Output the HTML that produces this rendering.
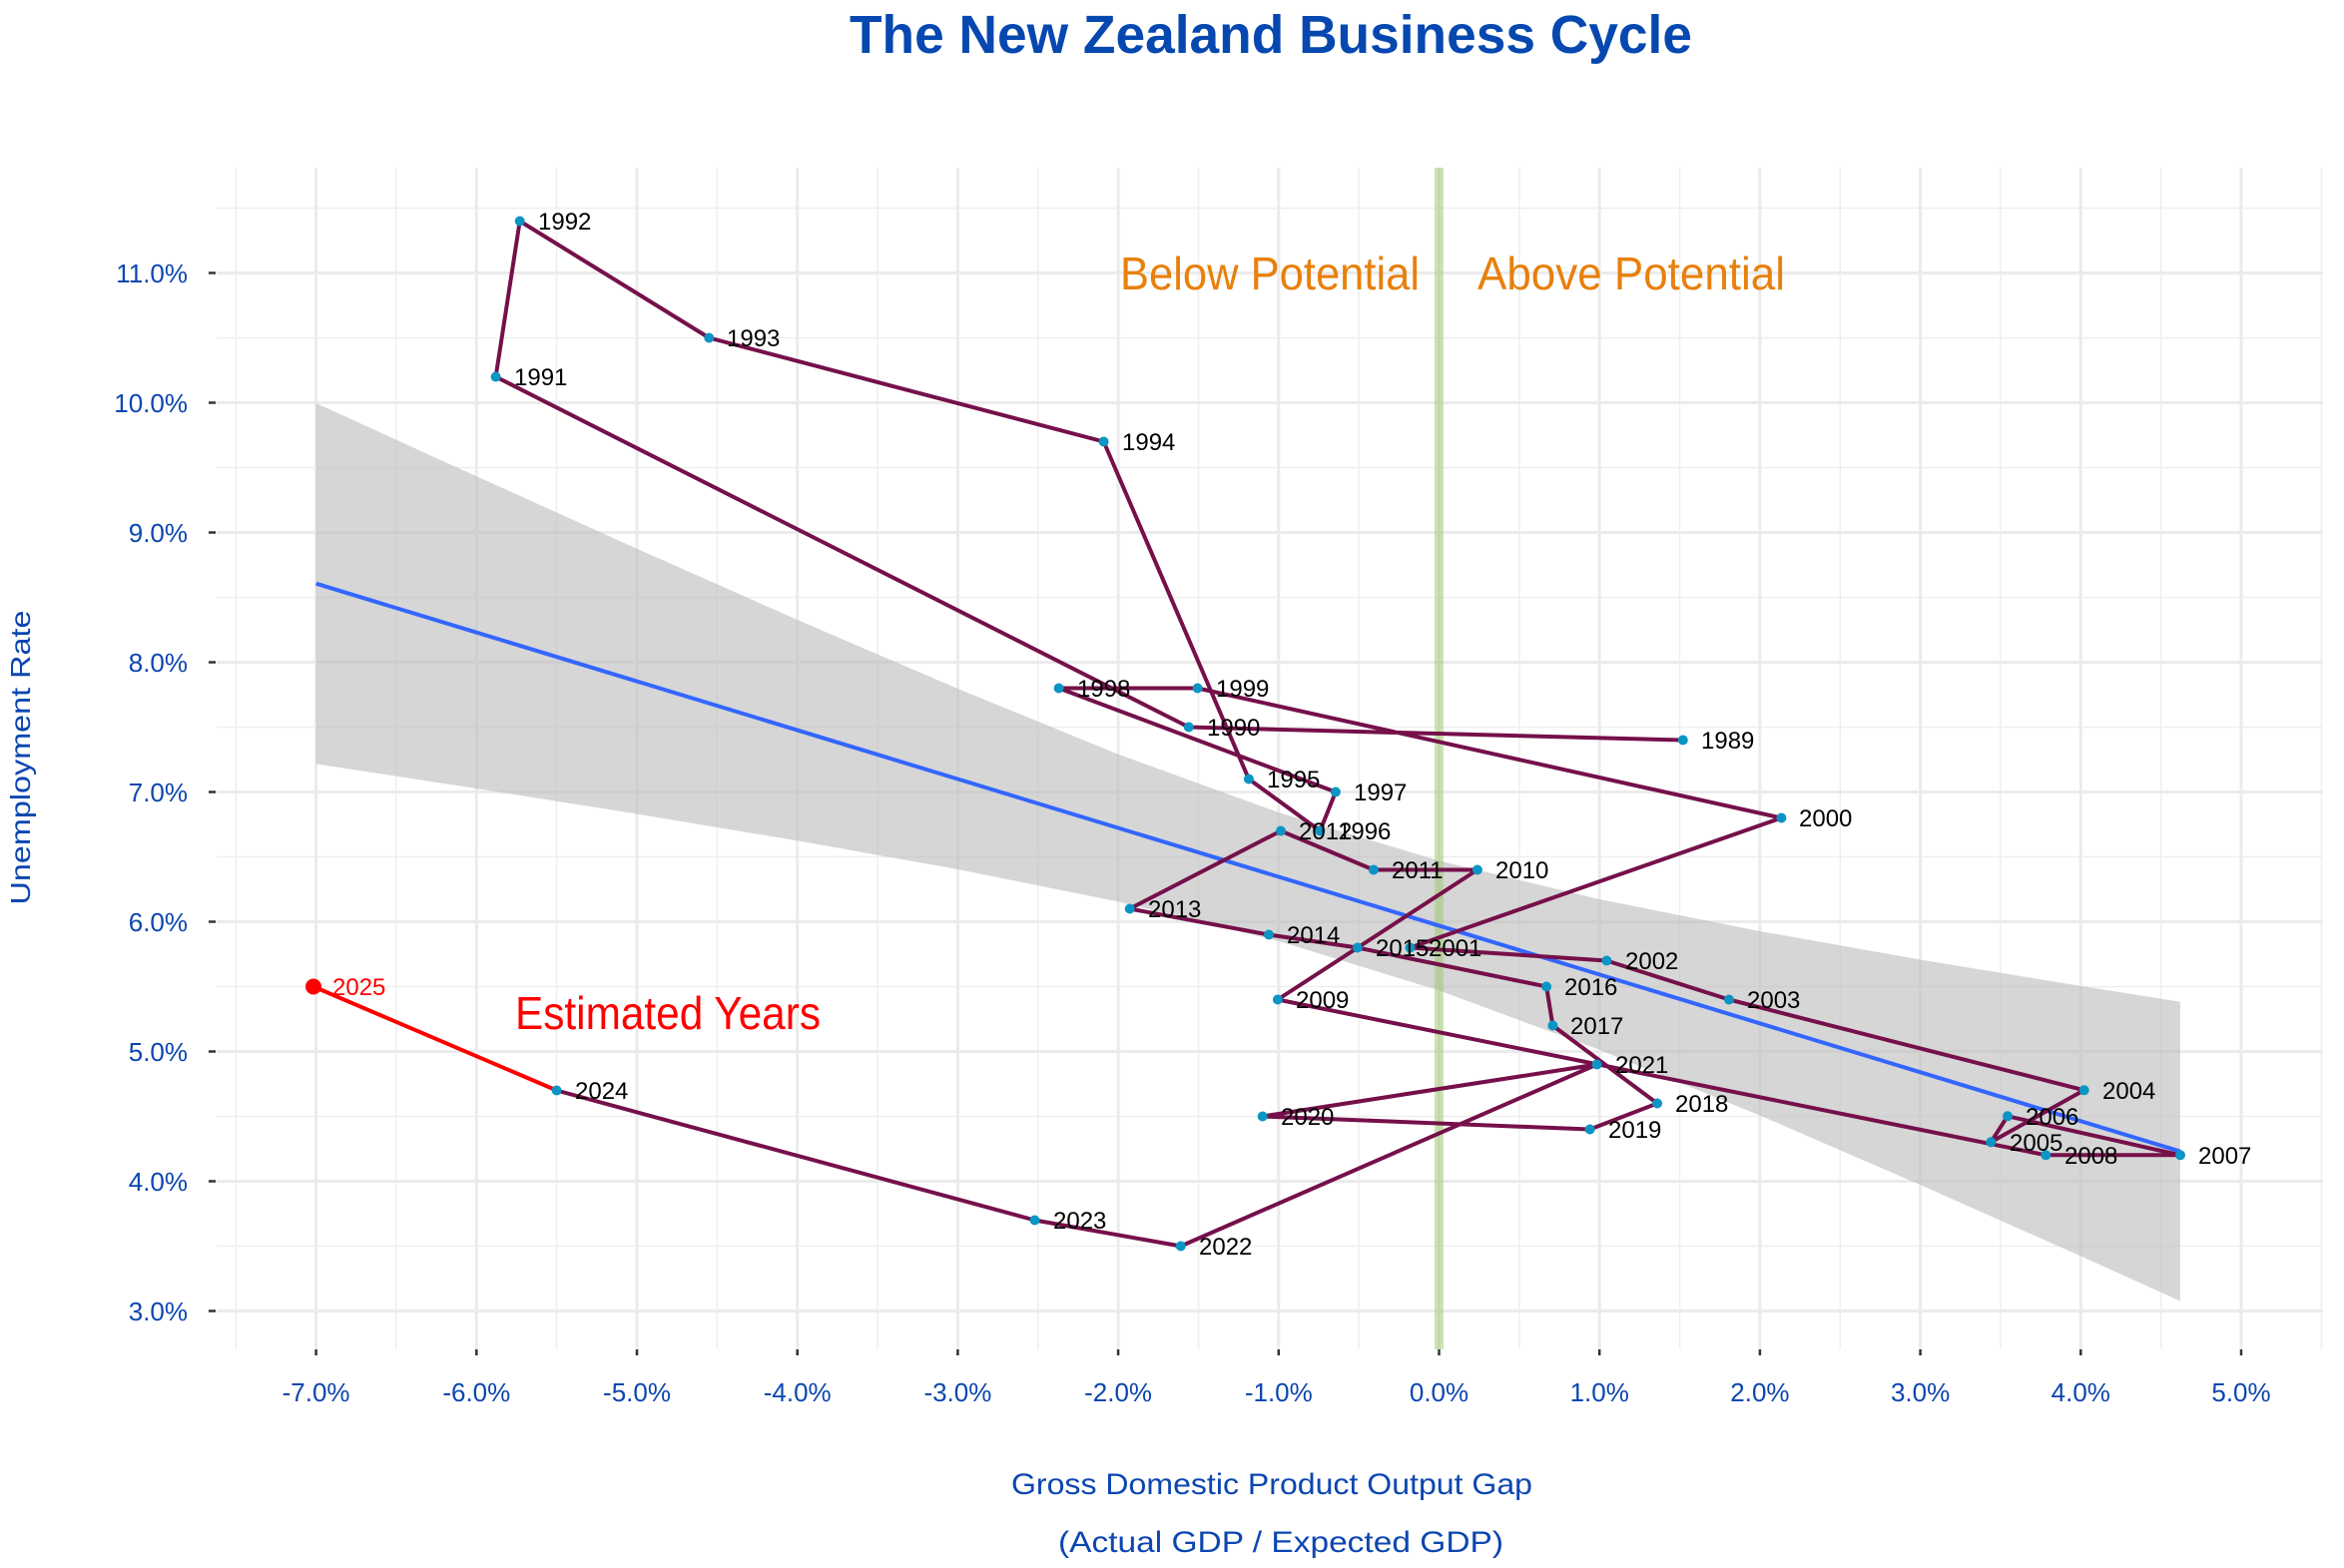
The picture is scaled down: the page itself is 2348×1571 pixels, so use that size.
<!DOCTYPE html>
<html><head><meta charset="utf-8"><style>
html,body{margin:0;padding:0;background:#fff}
svg{display:block}
text{font-family:"Liberation Sans",sans-serif}
.yl{font-size:26px;fill:#0b46b0;text-anchor:end}
.xl{font-size:26px;fill:#0b46b0;text-anchor:middle}
.lb{font-size:24px;fill:#000}
</style></head><body>
<svg width="2348" height="1571" viewBox="0 0 2348 1571" xmlns="http://www.w3.org/2000/svg">
<rect width="2348" height="1571" fill="#fff"/>
<text x="851" y="53" font-size="54" font-weight="bold" fill="#0648b0" textLength="844" lengthAdjust="spacingAndGlyphs">The New Zealand Business Cycle</text>
<!-- minor grid -->
<g stroke="#efefef" stroke-width="1.5">
<line x1="236.2" y1="168" x2="236.2" y2="1352"/><line x1="396.9" y1="168" x2="396.9" y2="1352"/><line x1="557.6" y1="168" x2="557.6" y2="1352"/><line x1="718.4" y1="168" x2="718.4" y2="1352"/><line x1="879.1" y1="168" x2="879.1" y2="1352"/><line x1="1039.8" y1="168" x2="1039.8" y2="1352"/><line x1="1200.5" y1="168" x2="1200.5" y2="1352"/><line x1="1361.2" y1="168" x2="1361.2" y2="1352"/><line x1="1521.9" y1="168" x2="1521.9" y2="1352"/><line x1="1682.6" y1="168" x2="1682.6" y2="1352"/><line x1="1843.3" y1="168" x2="1843.3" y2="1352"/><line x1="2004" y1="168" x2="2004" y2="1352"/><line x1="2164.7" y1="168" x2="2164.7" y2="1352"/><line x1="2325.4" y1="168" x2="2325.4" y2="1352"/>
<line x1="217" y1="208.5" x2="2327" y2="208.5"/><line x1="217" y1="338.5" x2="2327" y2="338.5"/><line x1="217" y1="468.5" x2="2327" y2="468.5"/><line x1="217" y1="598.5" x2="2327" y2="598.5"/><line x1="217" y1="728.5" x2="2327" y2="728.5"/><line x1="217" y1="858.5" x2="2327" y2="858.5"/><line x1="217" y1="988.5" x2="2327" y2="988.5"/><line x1="217" y1="1118.5" x2="2327" y2="1118.5"/><line x1="217" y1="1248.5" x2="2327" y2="1248.5"/>
</g>
<g stroke="#ebebeb" stroke-width="3">
<line x1="316.6" y1="168" x2="316.6" y2="1352"/><line x1="477.3" y1="168" x2="477.3" y2="1352"/><line x1="638" y1="168" x2="638" y2="1352"/><line x1="798.7" y1="168" x2="798.7" y2="1352"/><line x1="959.4" y1="168" x2="959.4" y2="1352"/><line x1="1120.1" y1="168" x2="1120.1" y2="1352"/><line x1="1280.8" y1="168" x2="1280.8" y2="1352"/><line x1="1441.5" y1="168" x2="1441.5" y2="1352"/><line x1="1602.2" y1="168" x2="1602.2" y2="1352"/><line x1="1762.9" y1="168" x2="1762.9" y2="1352"/><line x1="1923.6" y1="168" x2="1923.6" y2="1352"/><line x1="2084.3" y1="168" x2="2084.3" y2="1352"/><line x1="2245" y1="168" x2="2245" y2="1352"/>
<line x1="217" y1="273.5" x2="2327" y2="273.5"/><line x1="217" y1="403.5" x2="2327" y2="403.5"/><line x1="217" y1="533.5" x2="2327" y2="533.5"/><line x1="217" y1="663.5" x2="2327" y2="663.5"/><line x1="217" y1="793.5" x2="2327" y2="793.5"/><line x1="217" y1="923.5" x2="2327" y2="923.5"/><line x1="217" y1="1053.5" x2="2327" y2="1053.5"/><line x1="217" y1="1183.5" x2="2327" y2="1183.5"/><line x1="217" y1="1313.5" x2="2327" y2="1313.5"/>
</g>
<!-- ticks -->
<g stroke="#333" stroke-width="2.5">
<line x1="209" y1="273.5" x2="216" y2="273.5"/><line x1="209" y1="403.5" x2="216" y2="403.5"/><line x1="209" y1="533.5" x2="216" y2="533.5"/><line x1="209" y1="663.5" x2="216" y2="663.5"/><line x1="209" y1="793.5" x2="216" y2="793.5"/><line x1="209" y1="923.5" x2="216" y2="923.5"/><line x1="209" y1="1053.5" x2="216" y2="1053.5"/><line x1="209" y1="1183.5" x2="216" y2="1183.5"/><line x1="209" y1="1313.5" x2="216" y2="1313.5"/>
<line x1="316.6" y1="1352" x2="316.6" y2="1358"/><line x1="477.3" y1="1352" x2="477.3" y2="1358"/><line x1="638" y1="1352" x2="638" y2="1358"/><line x1="798.7" y1="1352" x2="798.7" y2="1358"/><line x1="959.4" y1="1352" x2="959.4" y2="1358"/><line x1="1120.1" y1="1352" x2="1120.1" y2="1358"/><line x1="1280.8" y1="1352" x2="1280.8" y2="1358"/><line x1="1441.5" y1="1352" x2="1441.5" y2="1358"/><line x1="1602.2" y1="1352" x2="1602.2" y2="1358"/><line x1="1762.9" y1="1352" x2="1762.9" y2="1358"/><line x1="1923.6" y1="1352" x2="1923.6" y2="1358"/><line x1="2084.3" y1="1352" x2="2084.3" y2="1358"/><line x1="2245" y1="1352" x2="2245" y2="1358"/>
</g>
<g>
<text class="yl" x="188" y="283">11.0%</text><text class="yl" x="188" y="413">10.0%</text><text class="yl" x="188" y="543">9.0%</text><text class="yl" x="188" y="673">8.0%</text><text class="yl" x="188" y="803">7.0%</text><text class="yl" x="188" y="933">6.0%</text><text class="yl" x="188" y="1063">5.0%</text><text class="yl" x="188" y="1193">4.0%</text><text class="yl" x="188" y="1323">3.0%</text>
<text class="xl" x="316.6" y="1404">-7.0%</text><text class="xl" x="477.3" y="1404">-6.0%</text><text class="xl" x="638" y="1404">-5.0%</text><text class="xl" x="798.7" y="1404">-4.0%</text><text class="xl" x="959.4" y="1404">-3.0%</text><text class="xl" x="1120.1" y="1404">-2.0%</text><text class="xl" x="1280.8" y="1404">-1.0%</text><text class="xl" x="1441.5" y="1404">0.0%</text><text class="xl" x="1602.2" y="1404">1.0%</text><text class="xl" x="1762.9" y="1404">2.0%</text><text class="xl" x="1923.6" y="1404">3.0%</text><text class="xl" x="2084.3" y="1404">4.0%</text><text class="xl" x="2245" y="1404">5.0%</text>
</g>
<text x="1274" y="1497" font-size="30" fill="#0b46b0" text-anchor="middle" textLength="522" lengthAdjust="spacingAndGlyphs">Gross Domestic Product Output Gap</text>
<text x="1283" y="1555" font-size="30" fill="#0b46b0" text-anchor="middle" textLength="446" lengthAdjust="spacingAndGlyphs">(Actual GDP / Expected GDP)</text>
<text transform="translate(30,759) rotate(-90)" font-size="28" fill="#0b46b0" text-anchor="middle" textLength="295" lengthAdjust="spacingAndGlyphs">Unemployment Rate</text>
<!-- band -->
<polygon fill="#bdbdbd" fill-opacity="0.62" points="316.6,404 477.3,477.2 638,549.75 798.7,621 959.4,690 1120.1,755.7 1280.8,814 1441.5,862.4 1602.2,901 1762.9,933 1923.6,961.5 2084.3,987.9 2183.9,1003.7 2183.9,1303.5 2084.3,1258.5 1923.6,1187.1 1762.9,1117.6 1602.2,1051.8 1441.5,992.4 1280.8,942.9 1120.1,903.4 959.4,871 798.7,842.3 638,815.5 477.3,790 316.6,765.4"/>
<line x1="1441.5" y1="168" x2="1441.5" y2="1352" stroke="#9cc76a" stroke-opacity="0.5" stroke-width="9"/>
<line x1="316.6" y1="584.7" x2="2183.9" y2="1153.6" stroke="#3366ff" stroke-width="4"/>
<text x="1122" y="290" font-size="46" fill="#e8800c" textLength="300" lengthAdjust="spacingAndGlyphs">Below Potential</text>
<text x="1480" y="290" font-size="46" fill="#e8800c" textLength="308" lengthAdjust="spacingAndGlyphs">Above Potential</text>
<text x="516" y="1031" font-size="46" fill="#ff0000" textLength="306" lengthAdjust="spacingAndGlyphs">Estimated Years</text>
<polyline fill="none" stroke="#75104a" stroke-width="4" stroke-linejoin="round" points="1685.8,741.5 1190.8,728.5 496.6,377.5 520.7,221.5 710.3,338.5 1105.6,442.5 1250.9,780.5 1322.3,832.5 1337.9,793.5 1060.6,689.5 1199.6,689.5 1784.4,819.5 1412.5,949.5 1609.4,962.5 1732,1001.5 2087.7,1092.3 1994.3,1144.3 2011,1118.3 2184,1157.3 2049.3,1157.3 1279.9,1001.5 1479.9,871.5 1375.9,871.5 1283,832.5 1131.7,910.5 1271,936.5 1359.8,949.5 1549.1,988.5 1555.4,1027.5 1660.1,1105.5 1592.6,1131.5 1264.7,1118.5 1599.6,1066.5 1182.8,1248.5 1036.5,1222.5 557.6,1092.5"/>
<line x1="557.6" y1="1092.5" x2="314" y2="988.5" stroke="#ff0000" stroke-width="4"/>
<g fill="#0a95c5">
<circle cx="1685.8" cy="741.5" r="5"/><circle cx="1190.8" cy="728.5" r="5"/><circle cx="496.6" cy="377.5" r="5"/><circle cx="520.7" cy="221.5" r="5"/><circle cx="710.3" cy="338.5" r="5"/><circle cx="1105.6" cy="442.5" r="5"/><circle cx="1250.9" cy="780.5" r="5"/><circle cx="1322.3" cy="832.5" r="5"/><circle cx="1337.9" cy="793.5" r="5"/><circle cx="1060.6" cy="689.5" r="5"/><circle cx="1199.6" cy="689.5" r="5"/><circle cx="1784.4" cy="819.5" r="5"/><circle cx="1412.5" cy="949.5" r="5"/><circle cx="1609.4" cy="962.5" r="5"/><circle cx="1732" cy="1001.5" r="5"/><circle cx="2087.7" cy="1092.3" r="5"/><circle cx="1994.3" cy="1144.3" r="5"/><circle cx="2011" cy="1118.3" r="5"/><circle cx="2184" cy="1157.3" r="5"/><circle cx="2049.3" cy="1157.3" r="5"/><circle cx="1279.9" cy="1001.5" r="5"/><circle cx="1479.9" cy="871.5" r="5"/><circle cx="1375.9" cy="871.5" r="5"/><circle cx="1283" cy="832.5" r="5"/><circle cx="1131.7" cy="910.5" r="5"/><circle cx="1271" cy="936.5" r="5"/><circle cx="1359.8" cy="949.5" r="5"/><circle cx="1549.1" cy="988.5" r="5"/><circle cx="1555.4" cy="1027.5" r="5"/><circle cx="1660.1" cy="1105.5" r="5"/><circle cx="1592.6" cy="1131.5" r="5"/><circle cx="1264.7" cy="1118.5" r="5"/><circle cx="1599.6" cy="1066.5" r="5"/><circle cx="1182.8" cy="1248.5" r="5"/><circle cx="1036.5" cy="1222.5" r="5"/><circle cx="557.6" cy="1092.5" r="5"/>
</g>
<circle cx="314" cy="988.5" r="8" fill="#ff0000"/>
<g class="lb">
<text class="lb" x="1704" y="750">1989</text><text class="lb" x="1209" y="737">1990</text><text class="lb" x="515" y="386">1991</text><text class="lb" x="539" y="230">1992</text><text class="lb" x="728" y="347">1993</text><text class="lb" x="1124" y="451">1994</text><text class="lb" x="1269" y="789">1995</text><text class="lb" x="1340" y="841">1996</text><text class="lb" x="1356" y="802">1997</text><text class="lb" x="1079" y="698">1998</text><text class="lb" x="1218" y="698">1999</text><text class="lb" x="1802" y="828">2000</text><text class="lb" x="1431" y="958">2001</text><text class="lb" x="1628" y="971">2002</text><text class="lb" x="1750" y="1010">2003</text><text class="lb" x="2106" y="1101">2004</text><text class="lb" x="2013" y="1153">2005</text><text class="lb" x="2029" y="1127">2006</text><text class="lb" x="2202" y="1166">2007</text><text class="lb" x="2068" y="1166">2008</text><text class="lb" x="1298" y="1010">2009</text><text class="lb" x="1498" y="880">2010</text><text class="lb" x="1394" y="880">2011</text><text class="lb" x="1301" y="841">2012</text><text class="lb" x="1150" y="919">2013</text><text class="lb" x="1289" y="945">2014</text><text class="lb" x="1378" y="958">2015</text><text class="lb" x="1567" y="997">2016</text><text class="lb" x="1573" y="1036">2017</text><text class="lb" x="1678" y="1114">2018</text><text class="lb" x="1611" y="1140">2019</text><text class="lb" x="1283" y="1127">2020</text><text class="lb" x="1618" y="1075">2021</text><text class="lb" x="1201" y="1257">2022</text><text class="lb" x="1055" y="1231">2023</text><text class="lb" x="576" y="1101">2024</text>
<text x="333" y="997" font-size="24" fill="#ff0000">2025</text>
</g>
</svg>
</body></html>
